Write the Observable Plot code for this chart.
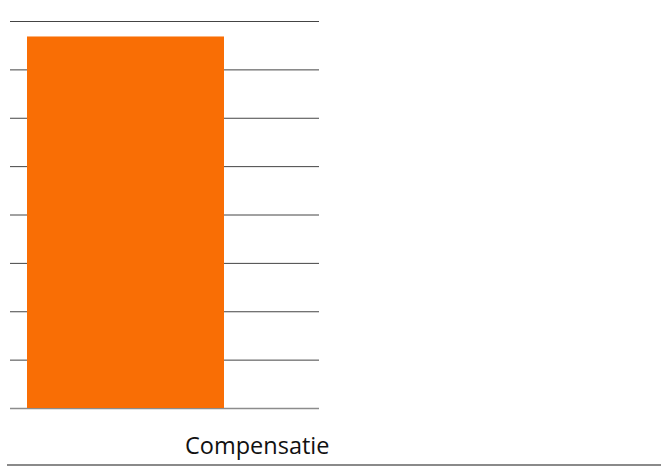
<!DOCTYPE html>
<html>
<head>
<meta charset="utf-8">
<script src="https://cdn.jsdelivr.net/npm/d3@7"></script>
<script src="https://cdn.jsdelivr.net/npm/@observablehq/plot@0.6"></script>
<style>
  html, body { margin: 0; padding: 0; background: #fff; }
  #wrap { position: relative; width: 661px; height: 467px; overflow: hidden; font-family: "Open Sans", sans-serif; }
  #caption { position: absolute; left: 185px; top: 434px; font-size: 23.5px; line-height: 1; color: #111; white-space: nowrap; }
  #rule { position: absolute; left: 7px; right: 0; top: 464px; height: 2px; background: #8a8a8a; }
</style>
</head>
<body>
<div id="wrap"><div id="chart"></div><div id="caption"></div><div id="rule"></div></div>
<script>
const categories = ["Compensatie"];
const values = [76.8];
const yTicks = [0, 10, 20, 30, 40, 50, 60, 70, 80];
const captionText = "Compensatie";

const data = categories.map((c, i) => ({ category: c, value: values[i] }));

const chart = Plot.plot({
  width: 661,
  height: 420,
  marginTop: 21,
  marginBottom: 12,
  marginLeft: 10,
  marginRight: 342,
  style: { fontFamily: "Open Sans, sans-serif", background: "#fff" },
  x: { domain: categories, range: [27, 224], padding: 0, axis: null },
  y: { domain: [0, 80], axis: null },
  marks: [
    Plot.ruleY(yTicks.filter(t => t > 0), { stroke: "#444", strokeWidth: 1 }),
    Plot.ruleY([0], { stroke: "#8c8c8c", strokeWidth: 1.5 }),
    Plot.barY(data, { x: "category", y: "value", fill: "#f96e05" })
  ]
});
document.getElementById("chart").appendChild(chart);
document.getElementById("caption").textContent = captionText;
</script>
</body>
</html>
